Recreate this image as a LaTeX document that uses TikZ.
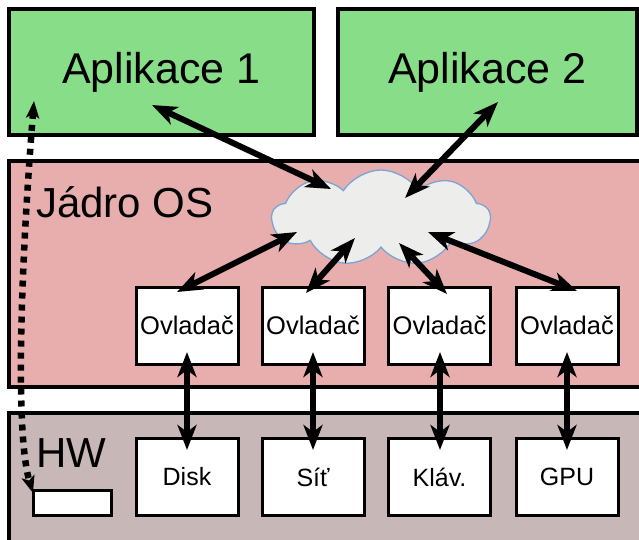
\documentclass[tikz,border=0pt]{standalone}
\usepackage{fontspec}
\setmainfont{Liberation Sans}
\usetikzlibrary{arrows.meta,shapes.symbols}
\definecolor{appg}{RGB}{136,221,136}
\definecolor{kern}{RGB}{232,174,174}
\definecolor{hwc}{RGB}{199,183,183}
\definecolor{cloudfill}{RGB}{237,237,235}
\definecolor{cloudline}{RGB}{122,164,212}
\begin{document}
\begin{tikzpicture}[x=1pt,y=-1pt,
  bigbox/.style={draw=black,line width=3.5pt,outer sep=0pt,inner sep=0pt},
  appbox/.style={bigbox,fill=appg,minimum height=126pt,font=\fontsize{43}{43}\selectfont},
  smallbox/.style={draw=black,line width=3pt,fill=white,outer sep=0pt,inner sep=0pt,minimum width=102pt,minimum height=77pt},
  ovl/.style={smallbox,font=\fontsize{25.5}{25.5}\selectfont},
  hwbox/.style={smallbox,font=\fontsize{25}{25}\selectfont},
  biglabel/.style={inner sep=0pt,anchor=base west,font=\fontsize{42}{42}\selectfont},
  link/.style={line width=6pt,{Stealth[length=25pt,width=19pt,inset=7pt]}-{Stealth[length=25pt,width=19pt,inset=7pt]}},
  dotlink/.style={line width=6.5pt,dash pattern=on 6pt off 6pt,{Stealth[length=17pt,width=13pt,inset=4pt]}-{Stealth[length=17pt,width=13pt,inset=4pt]}}
]
\useasboundingbox (0,0) rectangle (639,539);
\fill[white] (0,0) rectangle (639,539);
\begin{scope}
\clip (0,0) rectangle (639,539);
% layers
\node[appbox,minimum width=305pt] (app1) at (161.5,72) {Aplikace 1};
\node[appbox,minimum width=299pt] (app2) at (487.5,72) {Aplikace 2};
\node[bigbox,fill=kern,minimum width=646pt,minimum height=226pt] (kernel) at (332,274) {};
\node[bigbox,fill=hwc,minimum width=646pt,minimum height=140pt] (hw) at (332,483) {};
\end{scope}
\node[biglabel] (kernlabel) at (36,217) {Jádro OS};
\node[biglabel] (hwlabel) at (36,467) {HW};
% cloud
\node[cloud,cloud puffs=9,cloud puff arc=115,aspect=2.3,draw=cloudline,line width=1.3pt,fill=cloudfill,minimum width=218pt,minimum height=96pt,inner sep=0pt] (cloud) at (381,218) {};
% drivers
\node[ovl] (ov1) at (187,325.5) {Ovladač};
\node[ovl] (ov2) at (313,325.5) {Ovladač};
\node[ovl] (ov3) at (439.5,325.5) {Ovladač};
\node[ovl] (ov4) at (567,325.5) {Ovladač};
% hardware
\node[hwbox] (disk) at (187,477) {Disk};
\node[hwbox] (sit) at (313,477) {Síť};
\node[hwbox] (klav) at (439.5,477) {Kláv.};
\node[hwbox] (gpu) at (567,477) {GPU};
\node[draw=black,line width=3pt,fill=white,minimum width=78pt,minimum height=25pt,inner sep=0pt,outer sep=0pt] (dev) at (72,502.5) {};
% connection points
\coordinate (p1a) at (152,105);
\coordinate (p1c) at (331,189);
\coordinate (p2a) at (498,102);
\coordinate (p2c) at (405,198);
\coordinate (c1) at (297,232);
\coordinate (d1) at (177,292);
\coordinate (c2) at (355,238);
\coordinate (d2) at (306,293);
\coordinate (c3) at (399,243);
\coordinate (d3) at (447,294);
\coordinate (c4) at (428,232);
\coordinate (d4) at (577,291);
\coordinate (v1t) at (187,352);
\coordinate (v1b) at (187,450);
\coordinate (v2t) at (313,352);
\coordinate (v2b) at (313,450);
\coordinate (v3t) at (440,352);
\coordinate (v3b) at (440,450);
\coordinate (v4t) at (567,352);
\coordinate (v4b) at (567,450);
\coordinate (dtop) at (34,101);
\coordinate (dbot) at (33,493);
% arrows
\draw[link] (p1a) -- (p1c);
\draw[link] (p2a) -- (p2c);
\draw[link] (c1) -- (d1);
\draw[link] (c2) -- (d2);
\draw[link] (c3) -- (d3);
\draw[link] (c4) -- (d4);
\draw[link] (v1t) -- (v1b);
\draw[link] (v2t) -- (v2b);
\draw[link] (v3t) -- (v3b);
\draw[link] (v4t) -- (v4b);
\draw[dotlink] (dtop) .. controls (22,250) and (14,430) .. (dbot);
\end{tikzpicture}
\end{document}
